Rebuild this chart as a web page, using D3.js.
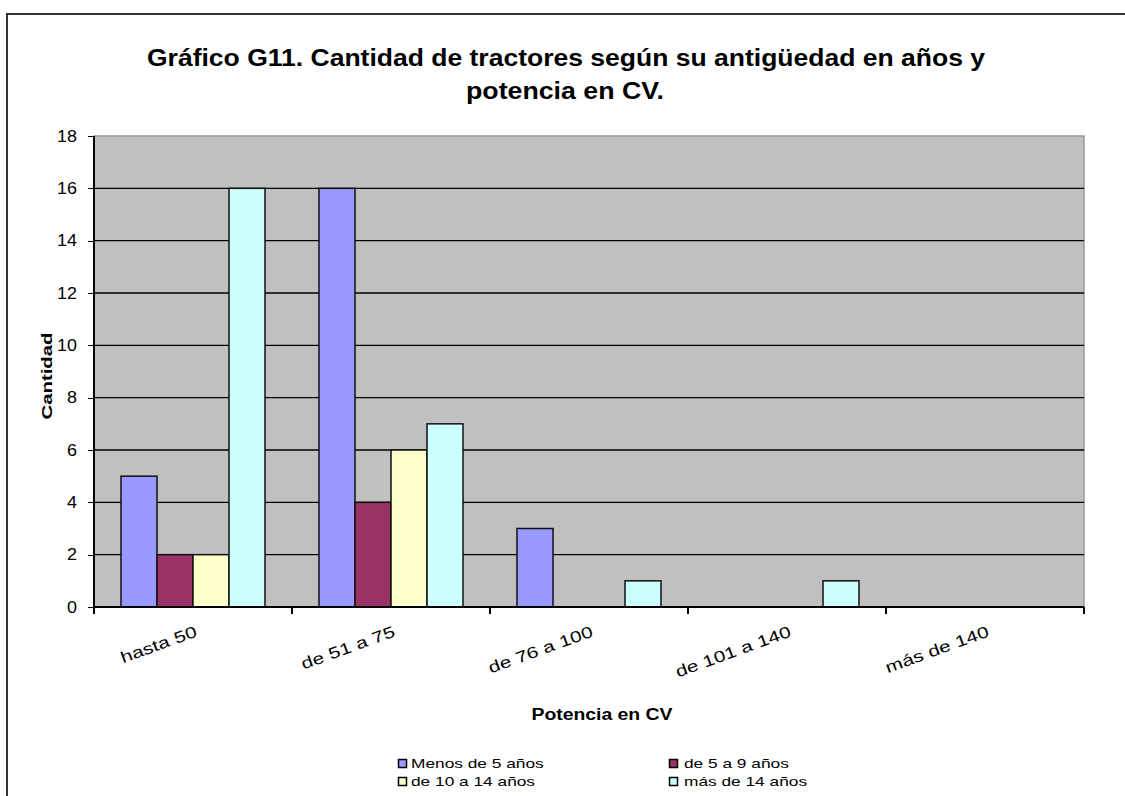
<!DOCTYPE html>
<meta charset="utf-8">
<style>
body { margin: 0; background: #fff; }
text { font-family: Arial, "Liberation Sans", sans-serif; fill: #000; }
.axis path, .axis line { stroke: #000; shape-rendering: crispEdges; }
.axis text { font-size: 16px; }
</style>
<svg width="1125" height="796"></svg>
<script src="https://d3js.org/d3.v7.min.js"></script>
<script>

var categories = ["hasta 50", "de 51 a 75", "de 76 a 100", "de 101 a 140", "más de 140"];
var series = ["Menos de 5 años", "de 5 a 9 años", "de 10 a 14 años", "más de 14 años"];
var colors = ["#9999FF", "#993366", "#FFFFCC", "#CCFFFF"];
var menos5 = [5, 16, 3, 0, 0];
var de5a9 = [2, 4, 0, 0, 0];
var de10a14 = [2, 6, 0, 0, 0];
var mas14 = [16, 7, 1, 1, 0];
var yTicks = [0, 2, 4, 6, 8, 10, 12, 14, 16, 18];

var values = [menos5, de5a9, de10a14, mas14];

var svg = d3.select("svg"),
    margin = {top: 136, left: 94},
    width = 990,
    height = 471;

// the source picture is stretched sideways, so widen text to match
function stretch(sel, k) {
  sel.each(function() {
    var len = this.getComputedTextLength();
    d3.select(this).attr("textLength", len * k).attr("lengthAdjust", "spacingAndGlyphs");
  });
}

// chart frame
svg.append("rect")
    .attr("x", 7).attr("y", 14)
    .attr("width", 1130).attr("height", 800)
    .attr("fill", "none")
    .attr("stroke", "#333")
    .attr("stroke-width", 2);

var x0 = d3.scaleBand().domain(categories).range([0, width]);
var x1 = d3.scaleBand().domain(series).range([27, x0.bandwidth() - 27]);
var y = d3.scaleLinear().domain([0, 18]).range([height, 0]);

var g = svg.append("g")
    .attr("transform", "translate(" + margin.left + "," + margin.top + ")");

g.append("rect")
    .attr("width", width).attr("height", height)
    .attr("fill", "#C0C0C0")
    .attr("stroke", "#999")
    .attr("stroke-width", 1.5);

g.append("g")
    .selectAll("line")
    .data(yTicks.slice(1, -1))
    .join("line")
    .attr("x1", 0).attr("x2", width)
    .attr("y1", function(d) { return y(d); })
    .attr("y2", function(d) { return y(d); })
    .attr("stroke", "#000")
    .attr("stroke-width", 1.3);

var group = g.selectAll(".grp")
    .data(categories)
    .join("g")
    .attr("class", "grp")
    .attr("transform", function(d) { return "translate(" + x0(d) + ",0)"; });

group.selectAll("rect")
    .data(function(d, i) {
      return series.map(function(s, j) { return {s: s, j: j, v: values[j][i]}; })
        .filter(function(e) { return e.v > 0; });
    })
    .join("rect")
    .attr("x", function(d) { return x1(d.s); })
    .attr("y", function(d) { return y(d.v); })
    .attr("width", x1.bandwidth())
    .attr("height", function(d) { return height - y(d.v); })
    .attr("fill", function(d) { return colors[d.j]; })
    .attr("stroke", "#111")
    .attr("stroke-width", 1.5);

g.append("g")
    .attr("class", "axis")
    .call(d3.axisLeft(y).tickValues(yTicks).tickSize(6).tickPadding(11))
    .call(function(a) { a.select(".domain").attr("d", "M0,0V" + height).attr("stroke-width", 1.5); })
    .call(function(a) { a.selectAll(".tick text").call(stretch, 1.12); });

var xAxis = g.append("g")
    .attr("class", "axis")
    .attr("transform", "translate(0," + height + ")")
    .call(d3.axisBottom(x0).tickSize(0).tickFormat(""))
    .call(function(a) { a.select(".domain").attr("d", "M0,0H" + width).attr("stroke-width", 2); });

xAxis.selectAll(".tk")
    .data(categories.concat([null]))
    .join("line")
    .attr("class", "tk")
    .attr("x1", function(d, i) { return i * x0.bandwidth(); })
    .attr("x2", function(d, i) { return i * x0.bandwidth(); })
    .attr("y1", 0).attr("y2", 7)
    .attr("stroke", "#000")
    .attr("stroke-width", 1.5);

xAxis.selectAll(".lbl")
    .data(categories)
    .join("text")
    .attr("class", "lbl")
    .attr("text-anchor", "end")
    .attr("font-size", 14)
    .attr("transform", function(d) {
      return "translate(" + (x0(d) + x0.bandwidth() / 2 + 5) + ",29) rotate(-20)";
    })
    .text(function(d) { return d; })
    .call(stretch, 1.3);

svg.append("text")
    .attr("x", 566).attr("y", 66)
    .attr("text-anchor", "middle")
    .attr("font-size", 23).attr("font-weight", "bold")
    .attr("textLength", 838).attr("lengthAdjust", "spacingAndGlyphs")
    .text("Gráfico G11. Cantidad de tractores según su antigüedad en años y");
svg.append("text")
    .attr("x", 565).attr("y", 99)
    .attr("text-anchor", "middle")
    .attr("font-size", 23).attr("font-weight", "bold")
    .attr("textLength", 198).attr("lengthAdjust", "spacingAndGlyphs")
    .text("potencia en CV.");

svg.append("text")
    .attr("transform", "translate(52,376) rotate(-90)")
    .attr("text-anchor", "middle")
    .attr("font-size", 15).attr("font-weight", "bold")
    .attr("textLength", 87).attr("lengthAdjust", "spacingAndGlyphs")
    .text("Cantidad");

svg.append("text")
    .attr("x", 602).attr("y", 720)
    .attr("text-anchor", "middle")
    .attr("font-size", 16).attr("font-weight", "bold")
    .attr("textLength", 141).attr("lengthAdjust", "spacingAndGlyphs")
    .text("Potencia en CV");

var legend = svg.append("g")
    .selectAll("g")
    .data(series)
    .join("g")
    .attr("transform", function(d, i) {
      return "translate(" + (i % 2 ? 669 : 398) + "," + (i < 2 ? 759 : 777) + ")";
    });

legend.append("rect")
    .attr("x", 0.5).attr("y", 0.5)
    .attr("width", 8).attr("height", 8)
    .attr("fill", function(d, i) { return colors[i]; })
    .attr("stroke", "#000")
    .attr("stroke-width", 1.5);

legend.append("text")
    .attr("x", function(d, i) { return i % 2 ? 15 : 13; })
    .attr("y", 9)
    .attr("font-size", 13)
    .text(function(d) { return d; })
    .call(stretch, 1.33);

</script>
